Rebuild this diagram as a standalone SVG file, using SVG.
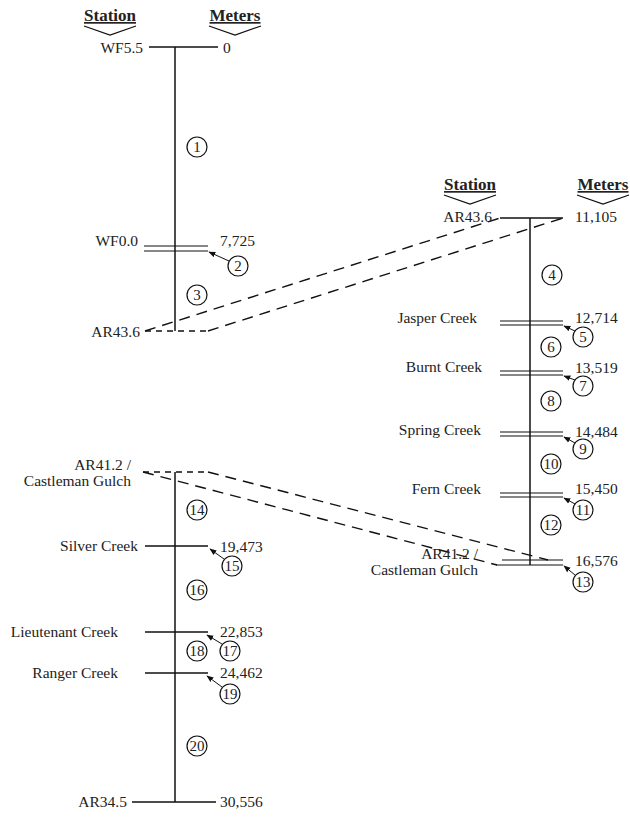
<svg xmlns="http://www.w3.org/2000/svg" width="630" height="836" viewBox="0 0 630 836">
<defs>
<style>
text{font-family:"Liberation Serif","Times New Roman",serif;font-size:15.5px;fill:#222}
.h{font-size:17px;font-weight:bold;text-decoration:underline}
.r{text-anchor:end}
.m{text-anchor:middle}
.n{font-size:15px}
.ln{stroke:#111;stroke-width:1.5;fill:none}
.th{stroke:#111;stroke-width:1.2;fill:none}
.d{stroke:#111;stroke-width:1.4;fill:none;stroke-dasharray:11,7}
.ds{stroke:#111;stroke-width:1.4;fill:none;stroke-dasharray:6,5}
.c{stroke:#111;stroke-width:1.2;fill:#fff}
.a{stroke:#111;stroke-width:1;fill:none;marker-end:url(#ah)}
</style>
<marker id="ah" viewBox="0 0 10 10" refX="9" refY="5" markerWidth="7" markerHeight="7" orient="auto" markerUnits="userSpaceOnUse"><path d="M0,1 L10,5 L0,9 z" fill="#111"/></marker>
</defs>
<g id="headers">
<text class="h m" x="110" y="21">Station</text>
<polyline class="th" points="84,26 110,35 136,26"/>
<text class="h m" x="235" y="21">Meters</text>
<polyline class="th" points="209,26 235,35 261,26"/>
<text class="h m" x="470" y="190">Station</text>
<polyline class="th" points="444,195 470,204 496,195"/>
<text class="h m" x="603" y="190">Meters</text>
<polyline class="th" points="577,195 603,204 629,195"/>
</g>
<g id="connectors">
<line class="d" x1="145" y1="331" x2="500" y2="218"/>
<line class="ds" x1="145" y1="331" x2="208" y2="331"/>
<line class="d" x1="208" y1="331" x2="563" y2="218"/>
<line class="ds" x1="143" y1="472" x2="208" y2="472"/>
<line class="d" x1="208" y1="472" x2="548" y2="560"/>
<line class="d" x1="143" y1="472" x2="497" y2="565"/>
</g>
<g id="left-upper">
<line class="ln" x1="175" y1="47" x2="175" y2="331"/>
<line class="ln" x1="149" y1="47" x2="218" y2="47"/>
<text class="r" x="143" y="53">WF5.5</text>
<text x="223" y="53">0</text>
<line class="th" x1="144" y1="246" x2="208" y2="246"/>
<line class="th" x1="144" y1="251" x2="208" y2="251"/>
<text class="r" x="138" y="246">WF0.0</text>
<text x="220" y="246">7,725</text>
<text class="r" x="140" y="337">AR43.6</text>
</g>
<g id="left-lower">
<line class="ln" x1="175" y1="472" x2="175" y2="802"/>
<text class="r" x="131" y="470">AR41.2 /</text>
<text class="r" x="131" y="486">Castleman Gulch</text>
<line class="ln" x1="145" y1="546" x2="208" y2="546"/>
<text class="r" x="138" y="551">Silver Creek</text>
<text x="220" y="552">19,473</text>
<line class="ln" x1="145" y1="632" x2="208" y2="632"/>
<text class="r" x="118" y="637">Lieutenant Creek</text>
<text x="220" y="637">22,853</text>
<line class="ln" x1="145" y1="673" x2="208" y2="673"/>
<text class="r" x="118" y="678">Ranger Creek</text>
<text x="220" y="678">24,462</text>
<line class="ln" x1="132" y1="802" x2="216" y2="802"/>
<text class="r" x="127" y="807">AR34.5</text>
<text x="220" y="807">30,556</text>
</g>
<g id="right">
<line class="ln" x1="530" y1="218" x2="530" y2="565"/>
<line class="ln" x1="500" y1="218" x2="563" y2="218"/>
<text class="r" x="492" y="222">AR43.6</text>
<text x="575" y="222">11,105</text>
<line class="th" x1="500" y1="321" x2="563" y2="321"/>
<line class="th" x1="500" y1="325" x2="563" y2="325"/>
<text class="r" x="477" y="323">Jasper Creek</text>
<text x="575" y="323">12,714</text>
<line class="th" x1="500" y1="371" x2="563" y2="371"/>
<line class="th" x1="500" y1="375" x2="563" y2="375"/>
<text class="r" x="482" y="372">Burnt Creek</text>
<text x="575" y="373">13,519</text>
<line class="th" x1="500" y1="432" x2="563" y2="432"/>
<line class="th" x1="500" y1="436" x2="563" y2="436"/>
<text class="r" x="481" y="435">Spring Creek</text>
<text x="575" y="437">14,484</text>
<line class="th" x1="500" y1="493" x2="563" y2="493"/>
<line class="th" x1="500" y1="497" x2="563" y2="497"/>
<text class="r" x="481" y="494">Fern Creek</text>
<text x="575" y="494">15,450</text>
<line class="th" x1="502" y1="560" x2="563" y2="560"/>
<line class="th" x1="496" y1="565" x2="563" y2="565"/>
<text class="r" x="478" y="559">AR41.2 /</text>
<text class="r" x="478" y="575">Castleman Gulch</text>
<text x="575" y="566">16,576</text>
</g>
<g id="circles">
<g id="n1"><circle class="c" cx="197" cy="147" r="10"/><text class="m n" x="197" y="152">1</text></g>
<g id="n2"><circle class="c" cx="238" cy="266" r="10"/><text class="m n" x="238" y="271">2</text></g>
<g id="n3"><circle class="c" cx="197" cy="295" r="10"/><text class="m n" x="197" y="300">3</text></g>
<g id="n4"><circle class="c" cx="552" cy="275" r="10"/><text class="m n" x="552" y="280">4</text></g>
<g id="n5"><circle class="c" cx="583" cy="337" r="10"/><text class="m n" x="583" y="342">5</text></g>
<g id="n6"><circle class="c" cx="551" cy="347" r="10"/><text class="m n" x="551" y="352">6</text></g>
<g id="n7"><circle class="c" cx="583" cy="386" r="10"/><text class="m n" x="583" y="391">7</text></g>
<g id="n8"><circle class="c" cx="551" cy="401" r="10"/><text class="m n" x="551" y="406">8</text></g>
<g id="n9"><circle class="c" cx="583" cy="449" r="10"/><text class="m n" x="583" y="454">9</text></g>
<g id="n10"><circle class="c" cx="551" cy="464" r="10"/><text class="m n" x="551" y="469">10</text></g>
<g id="n11"><circle class="c" cx="583" cy="510" r="10"/><text class="m n" x="583" y="515">11</text></g>
<g id="n12"><circle class="c" cx="551" cy="525" r="10"/><text class="m n" x="551" y="530">12</text></g>
<g id="n13"><circle class="c" cx="583" cy="582" r="10"/><text class="m n" x="583" y="587">13</text></g>
<g id="n14"><circle class="c" cx="197" cy="510" r="10"/><text class="m n" x="197" y="515">14</text></g>
<g id="n15"><circle class="c" cx="232" cy="566" r="10"/><text class="m n" x="232" y="571">15</text></g>
<g id="n16"><circle class="c" cx="197" cy="590" r="10"/><text class="m n" x="197" y="595">16</text></g>
<g id="n17"><circle class="c" cx="230" cy="651" r="10"/><text class="m n" x="230" y="656">17</text></g>
<g id="n18"><circle class="c" cx="197" cy="651" r="10"/><text class="m n" x="197" y="656">18</text></g>
<g id="n19"><circle class="c" cx="230" cy="694" r="10"/><text class="m n" x="230" y="699">19</text></g>
<g id="n20"><circle class="c" cx="197" cy="746" r="10"/><text class="m n" x="197" y="751">20</text></g>
</g>
<g id="pointers">
<line class="a" x1="229" y1="261" x2="209" y2="252"/>
<line class="a" x1="575" y1="331" x2="564" y2="326"/>
<line class="a" x1="575" y1="380" x2="564" y2="376"/>
<line class="a" x1="575" y1="443" x2="564" y2="437"/>
<line class="a" x1="575" y1="504" x2="564" y2="498"/>
<line class="a" x1="575" y1="575" x2="564" y2="566"/>
<line class="a" x1="224" y1="559" x2="210" y2="549"/>
<line class="a" x1="222" y1="644" x2="207" y2="635"/>
<line class="a" x1="222" y1="687" x2="207" y2="676"/>
</g>
</svg>
